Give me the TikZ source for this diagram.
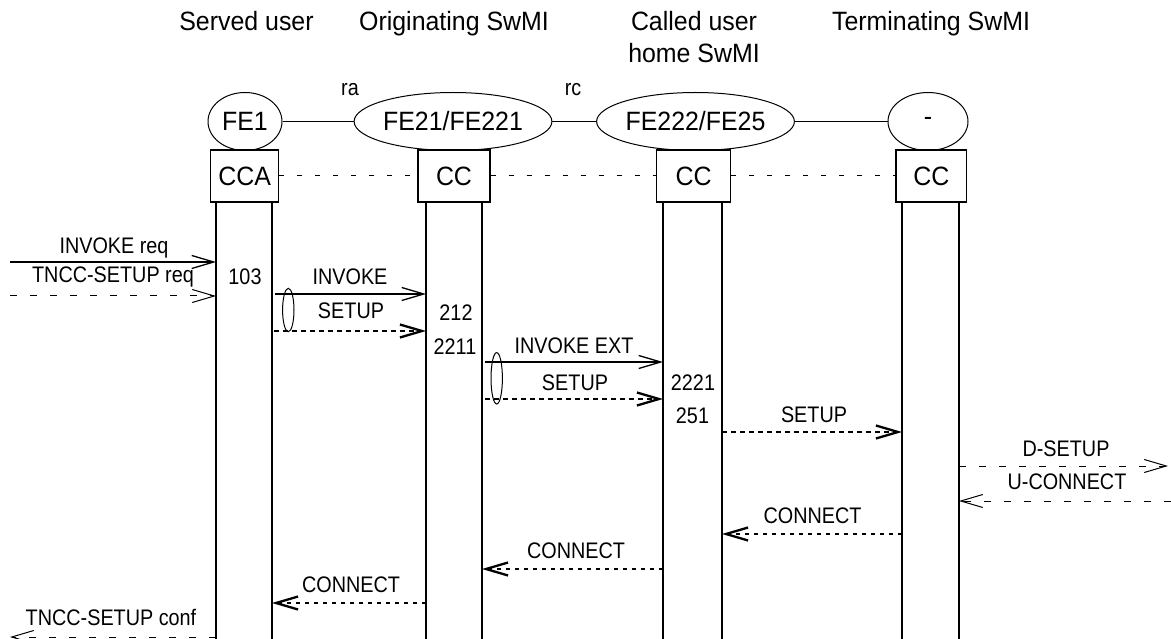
\documentclass[tikz,border=0pt]{standalone}
\usepackage{fontspec}
\setmainfont{Liberation Sans}
\newfontfamily\msgfont[FakeStretch=0.88]{Liberation Sans}
\newfontfamily\bigfont[FakeStretch=0.94]{Liberation Sans}
\usetikzlibrary{arrows.meta,shapes.geometric}
\begin{document}
\begin{tikzpicture}[x=1pt,y=-1pt,
  lbl/.style={font=\msgfont\fontsize{22.5}{27}\selectfont, anchor=base, inner sep=0pt},
  hdr/.style={font=\bigfont\fontsize{26.5}{32}\selectfont, anchor=base, inner sep=0pt},
  fe/.style={ellipse, draw, line width=1pt, inner sep=0pt, minimum height=58pt, font=\bigfont\fontsize{26.5}{32}\selectfont},
  ccbox/.style={draw, line width=1.3pt, minimum height=52pt, inner sep=0pt, font=\bigfont\fontsize{26.5}{32}\selectfont},
  life/.style={line width=1.3pt},
  assoc/.style={line width=1pt},
  boxdash/.style={line width=1pt, dash pattern=on 5pt off 13pt},
  tipend/.style={-{Straight Barb[length=22pt,width=13pt]}},
  solidmsg/.style={tipend, line width=1.3pt},
  thinmsg/.style={tipend, line width=1pt, dash pattern=on 7pt off 13pt},
  thickmsg/.style={tipend, line width=2.3pt, dash pattern=on 4.5pt off 4.5pt},
  grp/.style={ellipse, draw, line width=1pt, inner sep=0pt, minimum width=11.4pt}
]
\useasboundingbox (0,0) rectangle (1171,639);

% headers
\node[hdr] (hsu) at (246.5,31) {Served user};
\node[hdr] (hos) at (454,31) {Originating SwMI};
\node[hdr] (hcu1) at (694,31) {Called user};
\node[hdr] (hcu2) at (694,63) {home SwMI};
\node[hdr] (hts) at (931,31) {Terminating SwMI};

% functional entities
\node[fe, minimum width=74pt] (fe1) at (245,121.5) {FE1};
\node[fe, minimum width=166pt] (fe21) at (453,121.5) {FE21/FE221};
\node[fe, minimum width=162pt] (fe222) at (695.5,121.5) {FE222/FE25};
\node[fe, minimum width=80pt] (fet) at (928,121.5) {-};
\draw[assoc] (fe1) -- (fe21);
\draw[assoc] (fe21) -- (fe222);
\draw[assoc] (fe222) -- (fet);
\node[lbl] (ra) at (350,96) {ra};
\node[lbl] (rc) at (573,96) {rc};

% boxes
\node[ccbox, minimum width=68pt] (cca) at (244.7,176) {CCA};
\node[ccbox, minimum width=72pt] (ccb) at (454,176) {CC};
\node[ccbox, minimum width=74pt] (ccc) at (693.7,176) {CC};
\node[ccbox, minimum width=70.7pt] (ccd) at (931.3,176) {CC};
\draw[boxdash] (cca.east) -- (ccb.west);
\draw[boxdash] (ccb.east) -- (ccc.west);
\draw[boxdash] (ccc.east) -- (ccd.west);

% lifelines
\coordinate (a1t) at (216,202); \coordinate (a1b) at (216,639);
\coordinate (a2t) at (272,202); \coordinate (a2b) at (272,639);
\coordinate (b1t) at (426,202); \coordinate (b1b) at (426,639);
\coordinate (b2t) at (482,202); \coordinate (b2b) at (482,639);
\coordinate (c1t) at (663,202); \coordinate (c1b) at (663,639);
\coordinate (c2t) at (722,202); \coordinate (c2b) at (722,639);
\coordinate (d1t) at (902,202); \coordinate (d1b) at (902,639);
\coordinate (d2t) at (959,202); \coordinate (d2b) at (959,639);
\foreach \l in {a1,a2,b1,b2,c1,c2,d1,d2} {\draw[life] (\l t) -- (\l b);}

% messages
\coordinate (m1) at (10,262);
\draw[solidmsg] (m1) -- (m1 -| a1t);
\node[lbl] (l1) at (114,254) {INVOKE req};

\coordinate (m2) at (10,296);
\draw[thinmsg] (m2) -- (m2 -| a1t);
\node[lbl] (l2) at (113,283) {TNCC-SETUP req};

\node[lbl] (n103) at (245,285) {103};

\coordinate (m3) at (275,294);
\draw[solidmsg] (m3) -- (m3 -| b1t);
\node[lbl] (l3) at (350,285) {INVOKE};

\coordinate (m4) at (274,331);
\draw[thickmsg] (m4) -- (m4 -| b1t);
\node[lbl] (l4) at (351,319) {SETUP};
\node[grp, minimum height=43.4pt] (g1) at (288.3,310) {};

\node[lbl] (n212) at (456,320) {212};
\node[lbl] (n2211) at (455,354) {2211};

\coordinate (m5) at (485,362);
\draw[solidmsg] (m5) -- (m5 -| c1t);
\node[lbl] (l5) at (574,353) {INVOKE EXT};

\coordinate (m6) at (485,399);
\draw[thickmsg] (m6) -- (m6 -| c1t);
\node[lbl] (l6) at (575,390) {SETUP};
\node[grp, minimum height=51.4pt] (g2) at (496.7,378.3) {};

\node[lbl] (n2221) at (693,390) {2221};
\node[lbl] (n251) at (692.5,423) {251};

\coordinate (m7) at (722,432);
\draw[thickmsg] (m7) -- (m7 -| d1t);
\node[lbl] (l7) at (814,422) {SETUP};

\coordinate (m8) at (959,466);
\coordinate (m8e) at (1168,466);
\draw[thinmsg] (m8) -- (m8e);
\node[lbl] (l8) at (1066,456) {D-SETUP};

\coordinate (m9) at (1171,501);
\draw[thinmsg] (m9) -- (m9 -| d2t);
\node[lbl] (l9) at (1067,489) {U-CONNECT};

\coordinate (m10) at (902,534);
\draw[thickmsg] (m10) -- (m10 -| c2t);
\node[lbl] (l10) at (812.5,523) {CONNECT};

\coordinate (m11) at (663,569);
\draw[thickmsg] (m11) -- (m11 -| b2t);
\node[lbl] (l11) at (576,558) {CONNECT};

\coordinate (m12) at (426,603);
\draw[thickmsg] (m12) -- (m12 -| a2t);
\node[lbl] (l12) at (351,592) {CONNECT};

\coordinate (m13) at (216,637);
\coordinate (m13e) at (10,637);
\draw[thinmsg] (m13) -- (m13e);
\node[lbl] (l13) at (111,625) {TNCC-SETUP conf};
\end{tikzpicture}
\end{document}
